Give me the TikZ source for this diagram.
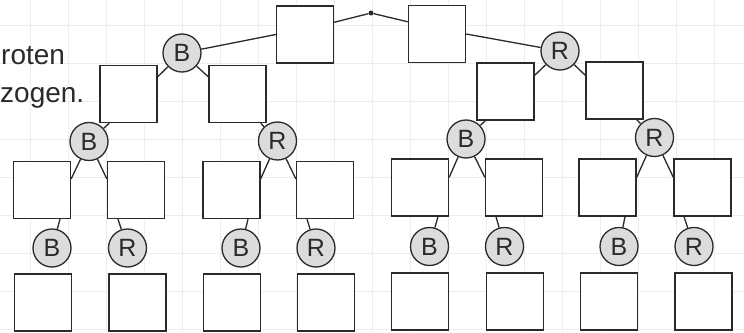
\documentclass[tikz,border=0pt]{standalone}
\usepackage{fontspec}
\setmainfont{Liberation Sans}
\usetikzlibrary{calc}
\definecolor{linec}{HTML}{2A2A2A}
\definecolor{ballc}{HTML}{DCDCDC}
\definecolor{gridc}{HTML}{EDEDED}
\tikzset{
  box/.style={draw=linec, line width=1.4pt, fill=white, minimum width=57pt,
    minimum height=57pt, inner sep=0pt},
  ball/.style={circle, draw=linec, fill=ballc, line width=1.3pt, minimum size=38pt,
    inner sep=0pt, text=linec, font=\fontsize{25}{25}\selectfont},
  conn/.style={draw=linec, line width=1.3pt},
  rootdot/.style={circle, fill=linec, minimum size=5pt, inner sep=0pt},
  sidetext/.style={anchor=base west, inner sep=0pt, text=linec,
    font=\fontsize{28}{28}\selectfont}
}
\begin{document}
\begin{tikzpicture}[x=1pt, y=-1pt]
\useasboundingbox (0,0) rectangle (744,332);
% squared paper
\fill[white] (0,0) rectangle (744,332);
\foreach \gx in {30,68,...,744} \draw[gridc, line width=0.8pt] (\gx,0) -- (\gx,332);
\foreach \gy in {25,63,...,332} \draw[gridc, line width=0.8pt] (0,\gy) -- (744,\gy);

% text at the left edge
\node[sidetext] (t1) at (1,64) {roten};
\node[sidetext] (t2) at (0,102) {zogen.};

% top level
\node[rootdot] (root) at (371,13) {};
\node[box] (T1) at (305,34.5) {};
\node[box] (T2) at (437,34) {};
\node[ball] (B1) at (182,53) {B};
\node[ball] (R1) at (560,51) {R};

% second level
\node[box] (L1a) at (128.5,94) {};
\node[box] (L1b) at (237.5,94) {};
\node[box] (R1a) at (505.5,91.5) {};
\node[box] (R1b) at (614.5,90.5) {};
\node[ball] (B2) at (89,141.5) {B};
\node[ball] (R2) at (277.5,141) {R};
\node[ball] (B3) at (466,139) {B};
\node[ball] (R3) at (654.5,137.5) {R};

% third level
\node[box] (A1) at (42,190) {};
\node[box] (A2) at (136,190) {};
\node[box] (A3) at (231.5,190) {};
\node[box] (A4) at (325,190) {};
\node[box] (A5) at (420,187.5) {};
\node[box] (A6) at (514,187.5) {};
\node[box] (A7) at (607.5,187.5) {};
\node[box] (A8) at (702.5,187.5) {};
\node[ball] (C1) at (52,248) {B};
\node[ball] (C2) at (127.5,248) {R};
\node[ball] (C3) at (241,248) {B};
\node[ball] (C4) at (316,248) {R};
\node[ball] (C5) at (429.5,246.5) {B};
\node[ball] (C6) at (504.5,246.5) {R};
\node[ball] (C7) at (619,246.5) {B};
\node[ball] (C8) at (694,246.5) {R};

% bottom level
\node[box] (D1) at (43,302.5) {};
\node[box] (D2) at (137.5,302.5) {};
\node[box] (D3) at (232,302.5) {};
\node[box] (D4) at (326,302.5) {};
\node[box] (D5) at (420,301.5) {};
\node[box] (D6) at (515,301.5) {};
\node[box] (D7) at (609,301.5) {};
\node[box] (D8) at (703.5,301.5) {};

% connectors
\draw[conn] (root) -- ($(T1.north east)+(0,17)$);
\draw[conn] (root) -- ($(T2.north west)+(0,17)$);
\draw[conn] (B1) -- (T1.west);
\draw[conn] (R1) -- (T2.east);
\draw[conn] (B1) -- ($(L1a.north east)+(0,12)$);
\draw[conn] (B1) -- ($(L1b.north west)+(0,12)$);
\draw[conn] (R1) -- ($(R1a.north east)+(0,13)$);
\draw[conn] (R1) -- ($(R1b.north west)+(0,14)$);
\draw[conn] (B2) -- ($(L1a.south west)+(10,0)$);
\draw[conn] (R2) -- ($(L1b.south east)+(-6,0)$);
\draw[conn] (B3) -- ($(R1a.south west)+(9,0)$);
\draw[conn] (R3) -- ($(R1b.south east)+(-7,0)$);
\draw[conn] (B2) -- ($(A1.north east)+(0,18)$);
\draw[conn] (B2) -- ($(A2.north west)+(0,18)$);
\draw[conn] (R2) -- ($(A3.north east)+(0,18)$);
\draw[conn] (R2) -- ($(A4.north west)+(0,18)$);
\draw[conn] (B3) -- ($(A5.north east)+(0,19)$);
\draw[conn] (B3) -- ($(A6.north west)+(0,19)$);
\draw[conn] (R3) -- ($(A7.north east)+(0,19)$);
\draw[conn] (R3) -- ($(A8.north west)+(0,19)$);
\draw[conn] ($(A1.south)+(18,0)$) -- (C1);
\draw[conn] ($(A2.south)+(-18,0)$) -- (C2);
\draw[conn] ($(A3.south)+(16.5,0)$) -- (C3);
\draw[conn] ($(A4.south)+(-18,0)$) -- (C4);
\draw[conn] ($(A5.south)+(18,0)$) -- (C5);
\draw[conn] ($(A6.south)+(-18,0)$) -- (C6);
\draw[conn] ($(A7.south)+(17.5,0)$) -- (C7);
\draw[conn] ($(A8.south)+(-18.5,0)$) -- (C8);
\end{tikzpicture}
\end{document}
